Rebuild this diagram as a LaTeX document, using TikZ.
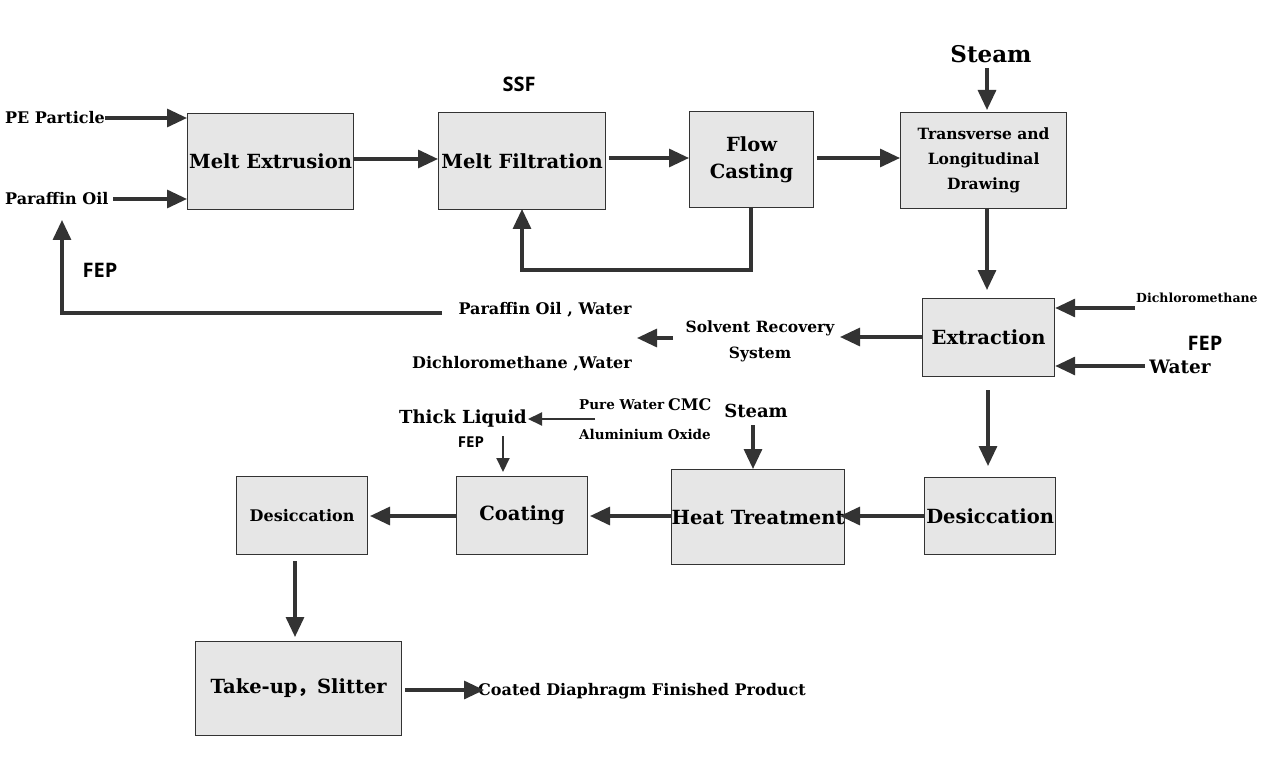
\documentclass[tikz,border=0pt]{standalone}
\usepackage{fontspec}
\setmainfont{DejaVu Serif}
\newfontfamily\sansb{Open Sans}
\newfontfamily\cjk{Noto Sans CJK SC}
\usetikzlibrary{arrows.meta}
\definecolor{ln}{HTML}{333333}
\definecolor{bx}{HTML}{E6E6E6}
\begin{document}
\begin{tikzpicture}[x=1pt,y=-1pt,
  box/.style={draw=ln,line width=1.2pt,fill=bx,anchor=north west,inner sep=0pt,align=center,font=\bfseries\fontsize{19.5}{23}\selectfont},
  arr/.style={draw=ln,line width=3.2pt,-{Triangle[length=20pt,width=18pt]}},
  thin/.style={draw=ln,line width=2pt,-{Triangle[length=14pt,width=13pt]}},
  lbl/.style={font=\bfseries\fontsize{16}{18}\selectfont,inner sep=0pt},
  sm/.style={font=\bfseries\fontsize{13.5}{15}\selectfont,inner sep=0pt},
  sf/.style={font=\sansb\bfseries\fontsize{20}{22}\selectfont,inner sep=0pt}]
\useasboundingbox (0,0) rectangle (1269,762);
\newcommand{\bx}[6]{\node[box,minimum width=#4-#2,minimum height=#5-#3] (#1) at (#2,#3) {#6};}
\bx{me}{187}{113}{353}{209}{Melt Extrusion}
\bx{mf}{438}{112}{605}{209}{Melt Filtration}
\bx{fc}{689}{111}{813}{207}{Flow\\[4pt]Casting}
\node[box,minimum width=166,minimum height=96,font=\bfseries\fontsize{15.5}{25}\selectfont] (td) at (900,112) {Transverse and\\Longitudinal\\Drawing};
\bx{ex}{922}{298}{1054}{376}{Extraction}
\bx{dr}{924}{477}{1055}{554}{Desiccation}
\bx{ht}{671}{469}{837}{564}{Heat Treatment}
\bx{co}{456}{476}{587}{554}{Coating}
\node[box,minimum width=131,minimum height=78,font=\bfseries\fontsize{16}{20}\selectfont] (dl) at (236,476) {Desiccation};
\bx{tu}{195}{641}{401}{735}{Take-up{\cjk ，}Slitter}
% labels
\node[lbl,anchor=west] (pe) at (5,118) {PE Particle};
\node[lbl,anchor=west] (po) at (5,199) {Paraffin Oil};
\node[sf] (ssf) at (519,84) {SSF};
\node[font=\bfseries\fontsize{23}{26}\selectfont] (st1) at (991,54) {Steam};
\node[sf] (fep1) at (100,270) {FEP};
\node[sm,anchor=west,font=\bfseries\fontsize{12.5}{14}\selectfont] (dcm) at (1136,298) {Dichloromethane};
\node[sf] (fep2) at (1205,343) {FEP};
\node[font=\bfseries\fontsize{18.5}{22}\selectfont,inner sep=0pt] (wat) at (1180,367) {Water};
\node[lbl,align=center,font=\bfseries\fontsize{15.5}{26}\selectfont] (srs) at (760,341) {Solvent Recovery\\System};
\node[lbl] (pow) at (545,310) {Paraffin Oil , Water};
\node[lbl] (dw) at (522,364) {Dichloromethane ,Water};
\node[font=\bfseries\fontsize{18}{20}\selectfont,inner sep=0pt] (st2) at (756,411) {Steam};
\node[font=\bfseries\fontsize{18}{20}\selectfont,inner sep=0pt] (tl) at (463,419) {Thick Liquid};
\node[sf,font=\sansb\bfseries\fontsize{15}{16}\selectfont] (fep3) at (471,442) {FEP};
\node[sm,anchor=west] (pw) at (579,405) {Pure Water};
\node[font=\bfseries\fontsize{16}{18}\selectfont,inner sep=0pt,anchor=west] (cmc) at (668,405) {CMC};
\node[sm,anchor=west] (ao) at (579,434) {Aluminium Oxide};
\node[lbl] (prod) at (642,691) {Coated Diaphragm Finished Product};
\coordinate (c1) at (1135,308); \coordinate (c2) at (1145,366);
\coordinate (c3) at (673,338); \coordinate (c4) at (637,338);
\coordinate (c5) at (595,419); \coordinate (c6) at (503,436);
% arrows
\draw[arr] (105,118) -- (187,118);
\draw[arr] (113,199) -- (187,199);
\draw[arr] (me.east|-0,159) -- (mf.west|-0,159);
\draw[arr] (609,158) -- (fc.west|-0,158);
\draw[arr] (817,158) -- (td.west|-0,158);
\draw[arr] (987,68) -- (987,110);
\draw[arr] (751,207) -- (751,270) -- (522,270) -- (522,209);
\draw[arr] (987,208) -- (987,290);
\draw[arr] (c1) -- (ex.east|-c1);
\draw[arr] (c2) -- (ex.east|-c2);
\draw[arr] (ex.west|-0,337) -- (840,337);
\draw[arr] (c3) -- (c4);
\draw[arr] (442,313) -- (62,313) -- (62,220);
\draw[arr] (988,390) -- (988,466);
\draw[arr] (dr.west|-0,516) -- (840,516);
\draw[arr] (ht.west|-0,516) -- (590,516);
\draw[arr] (co.west|-0,516) -- (370,516);
\draw[arr] (753,425) -- (ht.north-|753,0);
\draw[thin] (c5) -- (528,419);
\draw[thin] (c6) -- (503,472);
\draw[arr] (295,561) -- (295,637);
\draw[arr] (405,690) -- (484,690);
\end{tikzpicture}
\end{document}
